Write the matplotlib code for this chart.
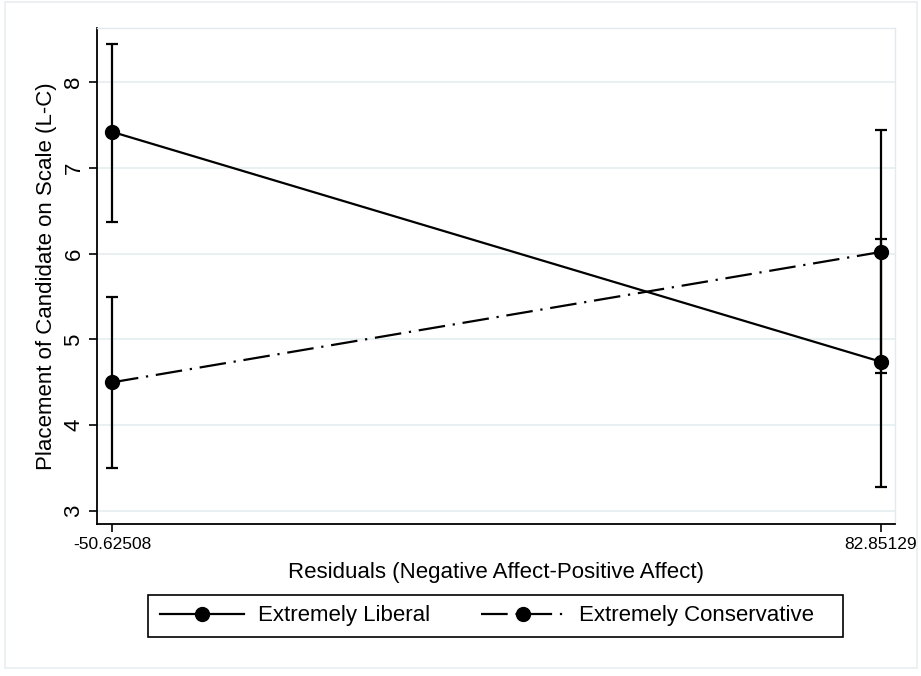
"""Predicted candidate placement by affect residuals, with 95% CIs."""

import matplotlib.pyplot as plt
from matplotlib.patches import Rectangle

plt.rcParams["font.family"] = ["Liberation Sans", "DejaVu Sans"]

# residual values at which predictions were made
x_values = [-50.62508, 82.85129]
x_tick_labels = ["-50.62508", "82.85129"]

liberal_mean = [7.42, 4.74]
liberal_low = [6.37, 3.28]
liberal_high = [8.44, 6.17]

conservative_mean = [4.50, 6.02]
conservative_low = [3.50, 4.61]
conservative_high = [5.50, 7.44]

y_ticks = [3, 4, 5, 6, 7, 8]

series_labels = ["Extremely Liberal", "Extremely Conservative"]

figure = plt.figure(figsize=(9.21, 6.76), dpi=100)
axis = figure.add_axes([0.1053, 0.2249, 0.8665, 0.7337])

# faint outer graph region border
figure.patches.append(
    Rectangle(
        (0.005, 0.012), 0.991, 0.985,
        transform=figure.transFigure,
        fill=False, edgecolor="#e8eef0", linewidth=1.2,
    )
)


def draw_series(means, lows, highs, linestyle, label):
    err_low = [m - lo for m, lo in zip(means, lows)]
    err_high = [hi - m for m, hi in zip(means, highs)]
    axis.errorbar(
        x_values, means,
        yerr=[err_low, err_high],
        fmt="none", ecolor="black", elinewidth=1.6,
        capsize=4.5, capthick=1.6, zorder=2,
    )
    line, = axis.plot(
        x_values, means,
        color="black", linewidth=1.6, linestyle=linestyle,
        marker="o", markersize=10, zorder=3, label=label,
    )
    return line


liberal_line = draw_series(
    liberal_mean, liberal_low, liberal_high, "-", series_labels[0]
)
conservative_line = draw_series(
    conservative_mean, conservative_low, conservative_high,
    (0, (12, 3.5, 1.0, 3.5)), series_labels[1],
)

axis.set_xlim(-53.23, 85.28)
axis.set_ylim(2.85, 8.63)
axis.set_xticks(x_values)
axis.set_xticklabels(x_tick_labels, fontsize=12.5)
axis.set_yticks(y_ticks)
axis.set_yticklabels([str(t) for t in y_ticks], fontsize=16,
                     rotation=90, va="center")
axis.tick_params(direction="out", length=6, width=1.2, color="black")
axis.tick_params(axis="y", pad=3)
axis.grid(axis="y", color="#e4eeef", linewidth=1.2)
axis.set_axisbelow(True)

for side in ("left", "bottom"):
    axis.spines[side].set_linewidth(1.3)
    axis.spines[side].set_color("black")
for side in ("top", "right"):
    axis.spines[side].set_color("#e4eaec")
    axis.spines[side].set_linewidth(1.0)

axis.set_xlabel("Residuals (Negative Affect-Positive Affect)",
                fontsize=16, labelpad=7)
axis.set_ylabel("Placement of Candidate on Scale (L-C)",
                fontsize=16, labelpad=5)

# legend entries without frame; the box is drawn separately
legend = figure.legend(
    handles=[liberal_line, conservative_line],
    loc="center left",
    bbox_to_anchor=(160 / 921, 1 - 616 / 676),
    ncol=2,
    fontsize=16,
    frameon=False,
    handlelength=3.8,
    handletextpad=0.6,
    columnspacing=2.3,
    borderpad=0.0,
    borderaxespad=0.0,
)
figure.patches.append(
    Rectangle(
        (148 / 921, 1 - 637 / 676), 695 / 921, 42 / 676,
        transform=figure.transFigure,
        fill=False, edgecolor="black", linewidth=1.2,
    )
)

figure.savefig("out.png", dpi=100)
